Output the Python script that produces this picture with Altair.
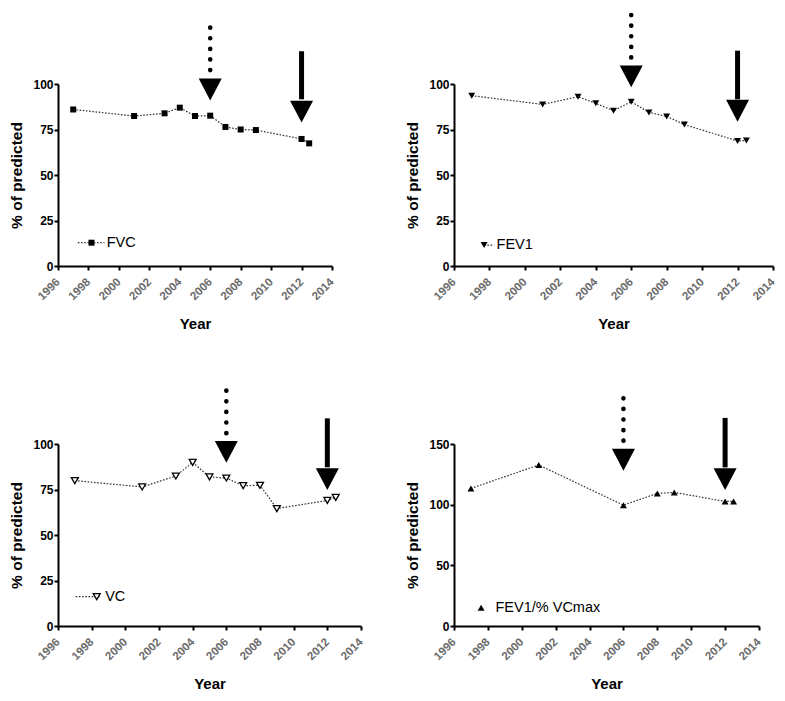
import altair as alt
import pandas as pd

# ---- data ----
fvc_years = [1997, 2001, 2003, 2004, 2005, 2006, 2007, 2008, 2009, 2012, 2012.5]
fvc_values = [86.0, 82.4, 83.9, 87.0, 82.4, 82.6, 76.4, 75.0, 74.7, 69.8, 67.4]

fev1_years = [1997, 2001, 2003, 2004, 2005, 2006, 2007, 2008, 2009, 2012, 2012.5]
fev1_values = [93.6, 88.8, 93.0, 89.4, 85.3, 90.3, 84.4, 82.2, 77.7, 68.7, 69.0]

vc_years = [1997, 2001, 2003, 2004, 2005, 2006, 2007, 2008, 2009, 2012, 2012.5]
vc_values = [79.9, 76.4, 82.4, 89.9, 81.9, 81.3, 77.1, 77.3, 64.5, 69.0, 70.7]

ratio_years = [1997, 2001, 2006, 2008, 2009, 2012, 2012.5]
ratio_values = [113.4, 132.7, 99.6, 109.3, 110.1, 102.7, 102.7]

year_ticks = [1996, 1998, 2000, 2002, 2004, 2006, 2008, 2010, 2012, 2014]
pct_ticks = [0, 25, 50, 75, 100]
ratio_ticks = [0, 50, 100, 150]

# arrow annotations (data units): dotted arrow at 2006, solid arrow at 2012
arrow_dotted_year = 2006
arrow_solid_year = 2012
# per panel: [dots top, dots bottom, head tip]
dotted_fvc = [131.0, 105.0, 91.0]
dotted_fev1 = [137.9, 112.0, 98.2]
dotted_vc = [129.3, 104.0, 89.7]
dotted_ratio = [187.7, 149.0, 128.0]
# per panel: [shaft top, shaft bottom, head tip]
solid_fvc = [118.0, 91.6, 78.8]
solid_fev1 = [118.3, 91.6, 79.3]
solid_vc = [114.1, 87.2, 74.7]
solid_ratio = [171.5, 130.7, 112.0]

# legend annotations (data units): [line start, line end, marker, text x, y]
legend_fvc = [1997.3, 1999.05, 1998.2, 1999.2, 12.8]
legend_fev1 = [1997.7, 1998.25, 1997.7, 1998.4, 11.5]
legend_vc = [1997.05, 1998.55, 1998.3, 1998.8, 16.1]
legend_ratio = [1997.6, 1997.6, 1997.6, 1998.45, 15.1]

FONT = "Liberation Sans"
HEAD = "M-1,-1.9L1,-1.9L0,0Z"


def panel(years, values, label, marker, y_max, y_ticks, width, dotted, solid, leg,
          show_leg_line=True):
    xs = alt.Scale(domain=[1996, 2014], nice=False, zero=False)
    ys = alt.Scale(domain=[0, y_max], nice=False)
    xaxis = alt.Axis(values=year_ticks, format="d", title="Year",
                     labelOverlap=False, labelAngle=315, labelFlush=False,
                     labelAlign="right", labelBaseline="middle")
    yaxis = alt.Axis(values=y_ticks, format="d", title="% of predicted",
                     labelOverlap=False, labelFlush=False)

    def X(f):
        return alt.X(f, scale=xs, axis=xaxis)

    def Y(f):
        return alt.Y(f, scale=ys, axis=yaxis)

    pts = pd.DataFrame({"year": years, "value": values})
    line = alt.Chart(pts).mark_line(strokeDash=[1.6, 1.6], strokeWidth=1.2,
                                    color="#333333").encode(x=X("year:Q"), y=Y("value:Q"))
    points = alt.Chart(pts).mark_point(opacity=1, **marker).encode(
        x=X("year:Q"), y=Y("value:Q"))

    dd = pd.DataFrame({"year": [arrow_dotted_year], "value": [dotted[0]],
                       "bottom": [dotted[1]]})
    sd = pd.DataFrame({"year": [arrow_solid_year], "value": [solid[0]],
                       "bottom": [solid[1]]})
    dots = alt.Chart(dd).mark_rule(strokeDash=[0.1, 10.5], strokeCap="round",
                                   strokeWidth=4.6, color="black").encode(
        x=X("year:Q"), y=Y("value:Q"), y2="bottom:Q")
    shaft = alt.Chart(sd).mark_rule(strokeWidth=5, color="black").encode(
        x=X("year:Q"), y=Y("value:Q"), y2="bottom:Q")
    heads_df = pd.DataFrame({"year": [arrow_dotted_year, arrow_solid_year],
                             "value": [dotted[2], solid[2]]})
    heads = alt.Chart(heads_df).mark_point(shape=HEAD, size=529, filled=True,
                                           opacity=1, color="black",
                                           strokeWidth=0).encode(
        x=X("year:Q"), y=Y("value:Q"))

    ld = pd.DataFrame({"year": [leg[0]], "x2": [leg[1]], "xm": [leg[2]],
                       "xt": [leg[3]], "value": [leg[4]], "label": [label]})
    layers = [line, points, dots, shaft, heads]
    if show_leg_line:
        layers.append(alt.Chart(ld).mark_rule(strokeDash=[1.6, 1.6], strokeWidth=1.2,
                                              color="#333333").encode(
            x=X("year:Q"), x2="x2:Q", y=Y("value:Q")))
    layers.append(alt.Chart(ld).mark_point(opacity=1, **marker).encode(
        x=X("xm:Q"), y=Y("value:Q")))
    layers.append(alt.Chart(ld).mark_text(align="left", baseline="middle",
                                          fontSize=14.5, font=FONT,
                                          color="black").encode(
        x=X("xt:Q"), y=Y("value:Q"), text="label:N"))
    return alt.layer(*layers).properties(width=width, height=182)


p1 = panel(fvc_years, fvc_values, "FVC",
           dict(shape="square", filled=True, color="black", size=36),
           100, pct_ticks, 274, dotted_fvc, solid_fvc, legend_fvc)
p2 = panel(fev1_years, fev1_values, "FEV1",
           dict(shape="triangle-down", filled=True, color="black", size=48),
           100, pct_ticks, 319, dotted_fev1, solid_fev1, legend_fev1)
p3 = panel(vc_years, vc_values, "VC",
           dict(shape="triangle-down", filled=False, color="black", size=48,
                strokeWidth=1.3, fill="white"),
           100, pct_ticks, 303, dotted_vc, solid_vc, legend_vc)
p4 = panel(ratio_years, ratio_values, "FEV1/% VCmax",
           dict(shape="triangle-up", filled=True, color="black", size=48),
           150, ratio_ticks, 305, dotted_ratio, solid_ratio, legend_ratio,
           show_leg_line=False)

row1 = alt.hconcat(p1, p2, spacing=122, bounds="flush")
row2 = alt.hconcat(p3, p4, spacing=93, bounds="flush")

chart = alt.vconcat(row1, row2, spacing=360, bounds="flush").properties(
    padding={"left": 1, "top": 4, "right": 0, "bottom": 0}
).configure_view(
    stroke=None
).configure_axis(
    domainColor="black", domainWidth=2, tickColor="black", tickWidth=2,
    tickSize=4, grid=False, labelFont=FONT, titleFont=FONT,
    titleFontWeight="bold", titleColor="black", labelOverlap=False,
).configure_axisX(
    labelColor="#6a6a6a", labelFontSize=11.5,
    labelFontWeight="bold", labelPadding=10, titleFontSize=15, titlePadding=15,
).configure_axisY(
    labelColor="black", labelFontSize=12, labelFontWeight="bold",
    labelPadding=1, titleFontSize=15.5, titlePadding=8,
)

chart.save("out.html", embed_options={"renderer": "svg", "actions": False})
